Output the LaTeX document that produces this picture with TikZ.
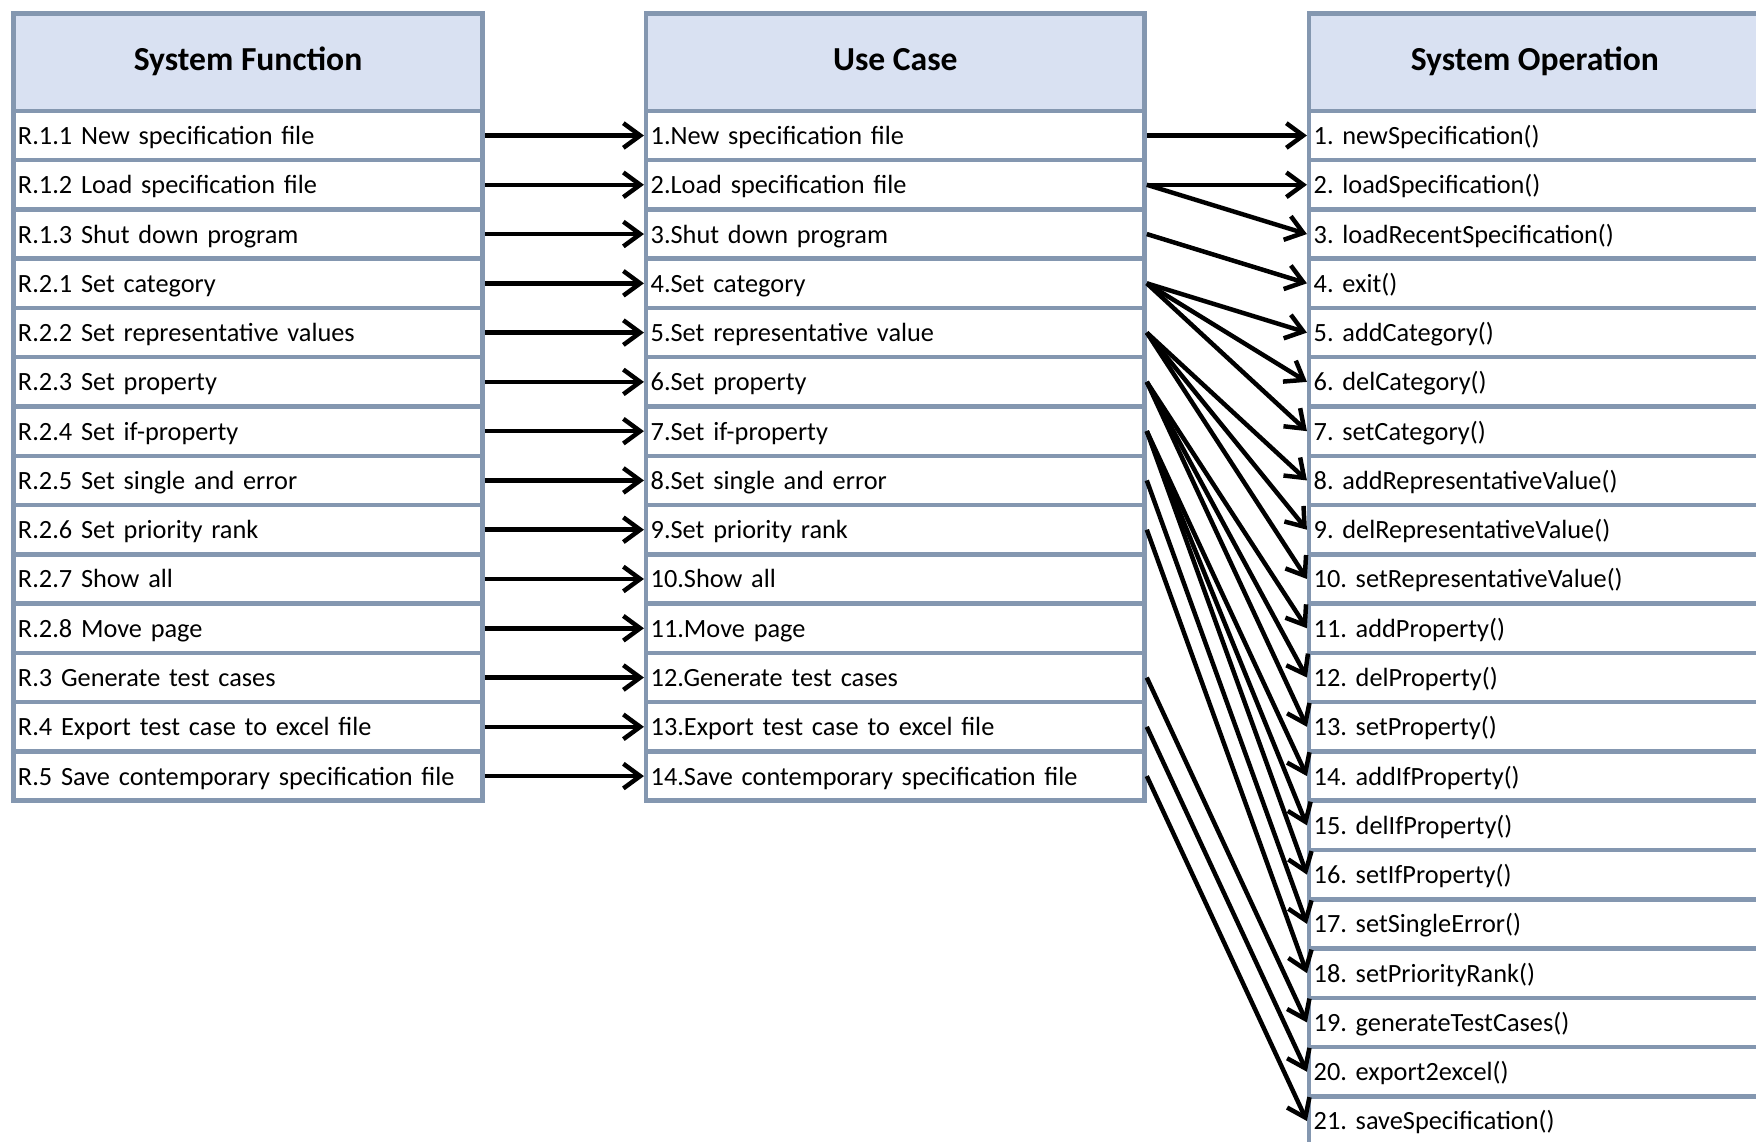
\documentclass[tikz,border=0pt]{standalone}
\usepackage{fontspec}
\setmainfont{Carlito}
\usetikzlibrary{arrows.meta}

\definecolor{cellline}{HTML}{8497B0}
\definecolor{headfill}{HTML}{D9E1F2}

\frenchspacing

\begin{document}
\begin{tikzpicture}[x=1pt,y=-1pt]

      \useasboundingbox (0,0) rectangle (1568,1019);
      \clip (0,0) rectangle (1568,1019);

      % headers
      \begin{scope}[every node/.style={draw=cellline,line width=4pt,fill=headfill,
          minimum height=87pt,text height=22pt,text depth=7pt,
          font=\fontsize{30}{34}\selectfont\bfseries}]
        \node[minimum width=419pt] (sfh) at (221.5,55.5) {System Function};
        \node[minimum width=445pt] (uch) at (799.5,55.5) {Use Case};
        \node[minimum width=403pt] (soh) at (1370.5,55.5) {System Operation};
      \end{scope}

      % rows
      \begin{scope}[every node/.style={draw=cellline,line width=4pt,fill=white,
          minimum height=44pt,inner xsep=4pt,align=left,text height=20pt,text depth=4pt,
          font=\fontsize{23.5}{26}\selectfont}]

        \begin{scope}[every node/.append style={text width=411pt}]
          \node (sf1)  at (221.5,121)  {R.1.1 New specification file};
          \node (sf2)  at (221.5,165)  {R.1.2 Load specification file};
          \node (sf3)  at (221.5,209)  {R.1.3 Shut down program};
          \node (sf4)  at (221.5,253)  {R.2.1 Set category};
          \node (sf5)  at (221.5,297)  {R.2.2 Set representative values};
          \node (sf6)  at (221.5,341)  {R.2.3 Set property};
          \node (sf7)  at (221.5,385)  {R.2.4 Set if-property};
          \node (sf8)  at (221.5,429)  {R.2.5 Set single and error};
          \node (sf9)  at (221.5,473)  {R.2.6 Set priority rank};
          \node (sf10) at (221.5,517)  {R.2.7 Show all};
          \node (sf11) at (221.5,561)  {R.2.8 Move page};
          \node (sf12) at (221.5,605)  {R.3 Generate test cases};
          \node (sf13) at (221.5,649)  {R.4 Export test case to excel file};
          \node (sf14) at (221.5,693)  {R.5 Save contemporary specification file};
        \end{scope}

        \begin{scope}[every node/.append style={text width=437pt}]
          \node (uc1)  at (799.5,121)  {1.New specification file};
          \node (uc2)  at (799.5,165)  {2.Load specification file};
          \node (uc3)  at (799.5,209)  {3.Shut down program};
          \node (uc4)  at (799.5,253)  {4.Set category};
          \node (uc5)  at (799.5,297)  {5.Set representative value};
          \node (uc6)  at (799.5,341)  {6.Set property};
          \node (uc7)  at (799.5,385)  {7.Set if-property};
          \node (uc8)  at (799.5,429)  {8.Set single and error};
          \node (uc9)  at (799.5,473)  {9.Set priority rank};
          \node (uc10) at (799.5,517)  {10.Show all};
          \node (uc11) at (799.5,561)  {11.Move page};
          \node (uc12) at (799.5,605)  {12.Generate test cases};
          \node (uc13) at (799.5,649)  {13.Export test case to excel file};
          \node (uc14) at (799.5,693)  {14.Save contemporary specification file};
        \end{scope}

        \begin{scope}[every node/.append style={text width=395pt}]
          \node (so1)  at (1370.5,121)  {1. newSpecification()};
          \node (so2)  at (1370.5,165)  {2. loadSpecification()};
          \node (so3)  at (1370.5,209)  {3. loadRecentSpecification()};
          \node (so4)  at (1370.5,253)  {4. exit()};
          \node (so5)  at (1370.5,297)  {5. addCategory()};
          \node (so6)  at (1370.5,341)  {6. delCategory()};
          \node (so7)  at (1370.5,385)  {7. setCategory()};
          \node (so8)  at (1370.5,429)  {8. addRepresentativeValue()};
          \node (so9)  at (1370.5,473)  {9. delRepresentativeValue()};
          \node (so10) at (1370.5,517)  {10. setRepresentativeValue()};
          \node (so11) at (1370.5,561)  {11. addProperty()};
          \node (so12) at (1370.5,605)  {12. delProperty()};
          \node (so13) at (1370.5,649)  {13. setProperty()};
          \node (so14) at (1370.5,693)  {14. addIfProperty()};
          \node (so15) at (1370.5,737)  {15. delIfProperty()};
          \node (so16) at (1370.5,781)  {16. setIfProperty()};
          \node (so17) at (1370.5,825)  {17. setSingleError()};
          \node (so18) at (1370.5,869)  {18. setPriorityRank()};
          \node (so19) at (1370.5,913)  {19. generateTestCases()};
          \node (so20) at (1370.5,957)  {20. export2excel()};
          \node (so21) at (1370.5,1001) {21. saveSpecification()};
        \end{scope}

      \end{scope}

      % arrows
      \begin{scope}[every edge/.style={draw,line width=4pt,
          -{Straight Barb[length=15pt,width=22pt]}}]
        \path (sf1.east)  edge (uc1.west);
        \path (sf2.east)  edge (uc2.west);
        \path (sf3.east)  edge (uc3.west);
        \path (sf4.east)  edge (uc4.west);
        \path (sf5.east)  edge (uc5.west);
        \path (sf6.east)  edge (uc6.west);
        \path (sf7.east)  edge (uc7.west);
        \path (sf8.east)  edge (uc8.west);
        \path (sf9.east)  edge (uc9.west);
        \path (sf10.east) edge (uc10.west);
        \path (sf11.east) edge (uc11.west);
        \path (sf12.east) edge (uc12.west);
        \path (sf13.east) edge (uc13.west);
        \path (sf14.east) edge (uc14.west);

        \path (uc1.east)  edge (so1.west);
        \path (uc2.east)  edge (so2.west);
        \path (uc2.east)  edge (so3.west);
        \path (uc3.east)  edge (so4.west);
        \path (uc4.east)  edge (so5.west);
        \path (uc4.east)  edge (so6.west);
        \path (uc4.east)  edge (so7.west);
        \path (uc5.east)  edge (so8.west);
        \path (uc5.east)  edge (so9.west);
        \path (uc5.east)  edge (so10.west);
        \path (uc6.east)  edge (so11.west);
        \path (uc6.east)  edge (so12.west);
        \path (uc6.east)  edge (so13.west);
        \path (uc7.east)  edge (so14.west);
        \path (uc7.east)  edge (so15.west);
        \path (uc7.east)  edge (so16.west);
        \path (uc8.east)  edge (so17.west);
        \path (uc9.east)  edge (so18.west);
        \path (uc12.east) edge (so19.west);
        \path (uc13.east) edge (so20.west);
        \path (uc14.east) edge (so21.west);
      \end{scope}

    \end{tikzpicture}
\end{document}
